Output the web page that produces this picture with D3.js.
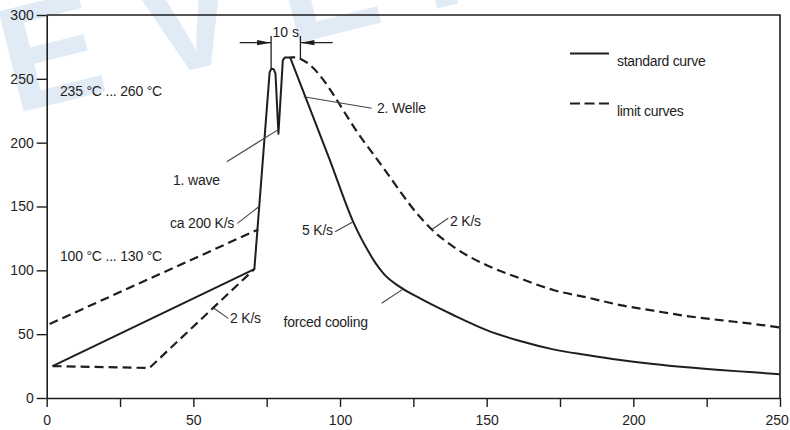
<!DOCTYPE html>
<html>
<head>
<meta charset="utf-8">
<script src="https://cdn.jsdelivr.net/npm/d3@7"></script>
<style>
  html, body { margin: 0; padding: 0; background: #fff; }
  svg { display: block; font-family: "Liberation Sans", Arial, Helvetica, sans-serif; }
</style>
</head>
<body>
<svg id="chart" width="790" height="430"></svg>
<script>
// ---- axes ----
const xTicks = [0, 25, 50, 75, 100, 125, 150, 175, 200, 225, 250];
const xTickLabels = ["0", "", "50", "", "100", "", "150", "", "200", "", "250"];
const yTicks = [0, 50, 100, 150, 200, 250, 300];

// ---- standard wave-soldering profile (time in s, temperature in °C) ----
const standardTime = [2, 70.8, 76.0, 76.6, 77.4, 78.0, 79.0, 80.5, 81.2, 83.0, 96.6, 104.5, 107.0, 109.5, 112.0, 115.0, 120.4, 127.3, 138.6, 150.0, 161.4, 172.7, 184.1, 195.5, 206.8, 218.2, 229.6, 241.0, 250];
const standardTemp = [25, 101, 255, 258, 257.5, 254, 207, 264.5, 266.8, 266.8, 186, 138, 126, 115.5, 106, 97, 87, 78, 65, 53.2, 44.6, 38.1, 33.7, 29.8, 26.6, 24, 21.9, 20.1, 18.6];
// index of the last point before cooling starts
const coolingStartIndex = 9;

// ---- limit curves ----
const upperPreheatTime = [1, 72.1];
const upperPreheatTemp = [58, 132];
const upperCoolTime = [83.0, 84.7, 87.0, 107.8, 113.6, 127.3, 131.3, 138.6, 150.0, 161.4, 172.7, 184.1, 195.5, 206.8, 218.2, 229.6, 241.0, 250];
const upperCoolTemp = [266.8, 266.8, 265, 202, 184, 141.7, 132, 118.5, 104, 93.7, 84.6, 78.8, 72.8, 68.4, 64.2, 61, 58, 55.3];
const lowerLimitTime = [2, 35, 70.8];
const lowerLimitTemp = [25, 23.5, 101];

// ---- 10 s dwell at peak ----
const dwellStart = 76.5;
const dwellSeconds = 10;

const svg = d3.select("#chart");
const W = 790, H = 430;
const margin = { top: 15, right: 10, bottom: 32, left: 46.7 };

const x = d3.scaleLinear().domain([0, 250]).range([margin.left, W - margin.right]);
const y = d3.scaleLinear().domain([0, 300]).range([H - margin.bottom, margin.top]);

const ink = "#1e1e1e";

// pale brand watermark behind the chart
svg.append("text")
  .attr("x", 14).attr("y", 114)
  .attr("transform", "rotate(-14, 14, 114)")
  .attr("font-size", 150)
  .attr("font-weight", "bold")
  .attr("letter-spacing", 42)
  .attr("fill", "#e1ebf6")
  .text("EVERLIGHT");

// ---- axes ----
const yAxis = d3.axisLeft(y).tickValues(yTicks).tickSize(10).tickSizeOuter(0).tickPadding(3);
const xAxis = d3.axisBottom(x).tickValues(xTicks).tickSize(9).tickSizeOuter(0).tickPadding(8)
  .tickFormat((d, i) => xTickLabels[i]);

const gy = svg.append("g").attr("transform", `translate(${x(0)},0)`).call(yAxis);
const gx = svg.append("g").attr("transform", `translate(0,${y(0)})`).call(xAxis);
[gx, gy].forEach(g => {
  g.selectAll("path.domain").attr("stroke", ink).attr("stroke-width", 1.6);
  g.selectAll(".tick line").attr("stroke", ink).attr("stroke-width", 1.4);
  g.selectAll(".tick text").attr("fill", ink).attr("font-size", 14)
    .attr("font-family", "'Liberation Sans', Arial, sans-serif");
});
// keep the last time label inside the page edge
gx.selectAll(".tick text").filter(d => d === 250)
  .attr("text-anchor", "end").attr("dx", "0.6em");

// top and right frame
svg.append("path")
  .attr("d", `M${x(0)},${y(300)}H${x(250)}V${y(0)}`)
  .attr("fill", "none").attr("stroke", ink).attr("stroke-width", 1.6);

// ---- curves ----
const line = d3.line().x(d => x(d[0])).y(d => y(d[1]));
const smooth = d3.line().x(d => x(d[0])).y(d => y(d[1])).curve(d3.curveMonotoneX);
const zipPts = (t, v) => t.map((d, i) => [d, v[i]]);

const dash = "9,5";
svg.append("path").datum(zipPts(upperPreheatTime, upperPreheatTemp))
  .attr("d", line).attr("fill", "none").attr("stroke", ink)
  .attr("stroke-width", 2.2).attr("stroke-dasharray", dash);
svg.append("path").datum(zipPts(upperCoolTime, upperCoolTemp))
  .attr("d", smooth).attr("fill", "none").attr("stroke", ink)
  .attr("stroke-width", 2.2).attr("stroke-dasharray", dash).attr("stroke-dashoffset", 4);
svg.append("path").datum(zipPts(lowerLimitTime, lowerLimitTemp))
  .attr("d", line).attr("fill", "none").attr("stroke", ink)
  .attr("stroke-width", 2.2).attr("stroke-dasharray", dash);

const standardPts = zipPts(standardTime, standardTemp);
// heating ramp and the two wave peaks: straight segments
svg.append("path").datum(standardPts.slice(0, coolingStartIndex + 1))
  .attr("d", line).attr("fill", "none").attr("stroke", ink)
  .attr("stroke-width", 2).attr("stroke-linejoin", "round");
// cooling branch: smooth
svg.append("path").datum(standardPts.slice(coolingStartIndex))
  .attr("d", smooth).attr("fill", "none").attr("stroke", ink)
  .attr("stroke-width", 2).attr("stroke-linejoin", "round");

// ---- 10 s dimension marker ----
const dimY = y(278.3);
const xa = x(dwellStart), xb = x(dwellStart + dwellSeconds);
const dim = svg.append("g").attr("stroke", ink).attr("stroke-width", 1.3);
dim.append("line").attr("x1", xa).attr("x2", xa).attr("y1", y(283.5)).attr("y2", y(258));
dim.append("line").attr("x1", xb).attr("x2", xb).attr("y1", y(283.5)).attr("y2", y(265));
dim.append("line").attr("x1", x(65.8)).attr("x2", xa).attr("y1", dimY).attr("y2", dimY);
dim.append("line").attr("x1", xb).attr("x2", x(97.5)).attr("y1", dimY).attr("y2", dimY);
svg.append("path")
  .attr("d", `M${xa},${dimY}l-14,-2.6v5.2z M${xb},${dimY}l14,-2.6v5.2z`)
  .attr("fill", ink);
svg.append("text")
  .attr("x", (xa + xb) / 2).attr("y", 37)
  .attr("text-anchor", "middle").attr("font-size", 14).attr("fill", ink)
  .text(`${dwellSeconds} s`);

// ---- annotations ----
const leaders = [
  [[61.4, 185.1], [78.8, 210]],
  [[87.6, 236], [110.8, 226.9]],
  [[65.0, 136.8], [72.4, 150]],
  [[61.9, 62.4], [57.0, 70.3]],
  [[98.3, 130.3], [104.5, 138.1]],
  [[114.2, 74.2], [121.6, 85.5]],
  [[136.9, 140.8], [131.3, 132]]
];
svg.append("g").selectAll("line").data(leaders).join("line")
  .attr("x1", d => x(d[0][0])).attr("y1", d => y(d[0][1]))
  .attr("x2", d => x(d[1][0])).attr("y2", d => y(d[1][1]))
  .attr("stroke", "#444").attr("stroke-width", 1.1);

const notes = [
  { t: "235 °C ... 260 °C", px: 60, py: 96 },
  { t: "100 °C ... 130 °C", px: 60, py: 261 },
  { t: "1. wave", px: 173, py: 185 },
  { t: "2. Welle", px: 377, py: 113 },
  { t: "ca 200 K/s", px: 170, py: 228 },
  { t: "5 K/s", px: 302, py: 235 },
  { t: "2 K/s", px: 230, py: 323 },
  { t: "forced cooling", px: 283.5, py: 327 },
  { t: "2 K/s", px: 450, py: 226 }
];
svg.append("g").selectAll("text").data(notes).join("text")
  .attr("x", d => d.px).attr("y", d => d.py)
  .attr("font-size", 14).attr("fill", ink).attr("letter-spacing", -0.2)
  .text(d => d.t);

// ---- legend ----
const legend = [
  { label: "standard curve", dashed: false, py: 53.5 },
  { label: "limit curves", dashed: true, py: 103.5 }
];
const lg = svg.append("g").selectAll("g").data(legend).join("g");
lg.append("line")
  .attr("x1", 570).attr("x2", 609).attr("y1", d => d.py).attr("y2", d => d.py)
  .attr("stroke", ink).attr("stroke-width", 2.2)
  .attr("stroke-dasharray", d => d.dashed ? "10,4.5" : null);
lg.append("text")
  .attr("x", 617).attr("y", d => d.py + 12.5)
  .attr("font-size", 14).attr("fill", ink).attr("letter-spacing", -0.3)
  .text(d => d.label);
</script>
</body>
</html>
